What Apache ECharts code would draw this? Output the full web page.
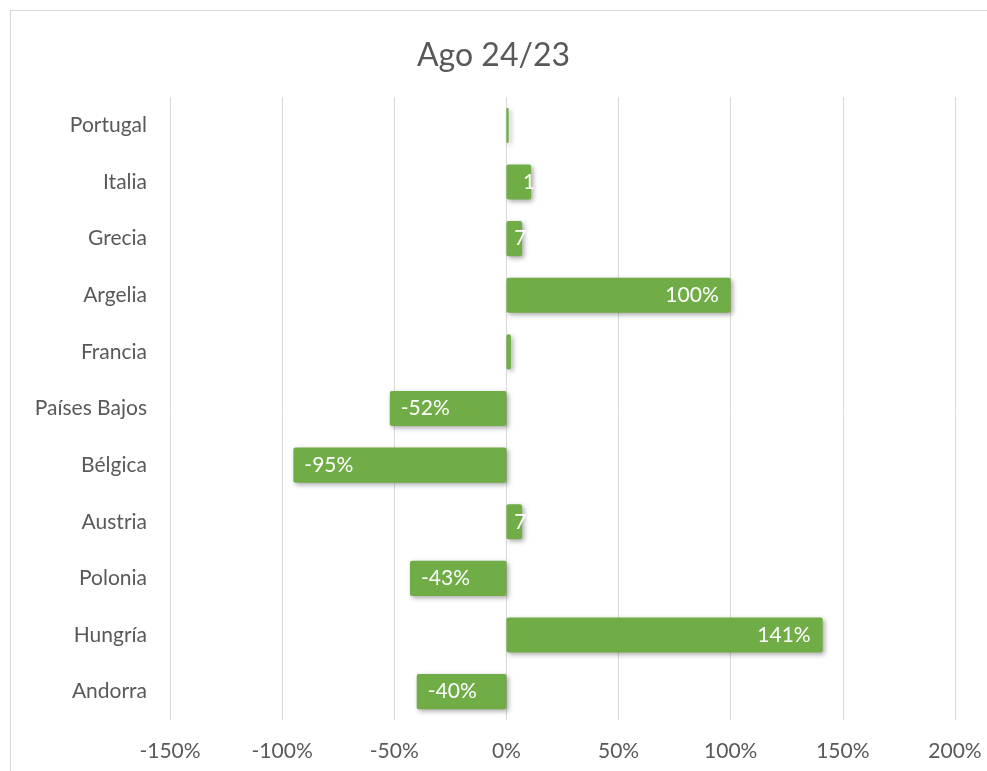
<!DOCTYPE html>
<html>
<head>
<meta charset="utf-8">
<script src="https://cdn.jsdelivr.net/npm/echarts@6/dist/echarts.min.js"></script>
<style>
  html, body { margin: 0; padding: 0; background: #ffffff; }
  #frame { position: absolute; left: 10px; top: 10px; width: 1000px; height: 800px; border: 1px solid #d9d9d9; box-sizing: border-box; }
  #chart { position: absolute; left: 0; top: 0; width: 987px; height: 771px; }
</style>
</head>
<body>
<div id="frame"></div>
<div id="chart"></div>
<script>
const titleText = 'Ago 24/23';
const categories = ['Portugal', 'Italia', 'Grecia', 'Argelia', 'Francia', 'Países Bajos', 'Bélgica', 'Austria', 'Polonia', 'Hungría', 'Andorra'];
const values = [1, 11, 7, 100, 2, -52, -95, 7, -43, 141, -40];
const xTicks = { min: -150, max: 200, step: 50 };

const FONT = 'Lato, "Open Sans", sans-serif';
const GREY = '#595959';

const barData = values.map(function (v) {
  let label;
  if (Math.abs(v) < 3) {
    label = { show: false };
  } else if (v < 0) {
    label = { show: true, position: 'insideLeft', distance: 11 };
  } else if (v < 20) {
    label = { show: true, position: 'right', distance: -8 };
  } else {
    label = { show: true, position: 'insideRight', distance: 12 };
  }
  return { value: v, label: label };
});

const chart = echarts.init(document.getElementById('chart'), null, { renderer: 'canvas' });
chart.setOption({
  backgroundColor: 'transparent',
  animation: false,
  title: {
    text: titleText,
    left: 'center',
    top: 35,
    textStyle: { fontFamily: FONT, fontSize: 32, fontWeight: 'normal', color: GREY }
  },
  grid: { left: 170, right: 32, top: 97, bottom: 51, containLabel: false },
  xAxis: {
    type: 'value',
    min: xTicks.min,
    max: xTicks.max,
    interval: xTicks.step,
    axisLine: { show: false },
    axisTick: { show: false },
    splitLine: { show: true, lineStyle: { color: '#d9d9d9', width: 1 } },
    axisLabel: {
      formatter: function (v) { return v + '%'; },
      fontFamily: FONT, fontSize: 21, color: GREY, margin: 21
    }
  },
  yAxis: {
    type: 'category',
    data: categories,
    inverse: true,
    axisLine: { show: false },
    axisTick: { show: false },
    splitLine: { show: false },
    axisLabel: { fontFamily: FONT, fontSize: 21, color: GREY, margin: 23 }
  },
  series: [{
    type: 'bar',
    data: barData,
    barCategoryGap: '38%',
    itemStyle: {
      color: '#70AD47',
      borderRadius: 2,
      shadowColor: 'rgba(0,0,0,0.35)',
      shadowBlur: 5,
      shadowOffsetX: 2,
      shadowOffsetY: 2
    },
    label: {
      color: '#ffffff',
      fontFamily: FONT,
      fontSize: 21,
      formatter: function (p) { return p.value + '%'; }
    }
  }]
});
</script>
</body>
</html>
